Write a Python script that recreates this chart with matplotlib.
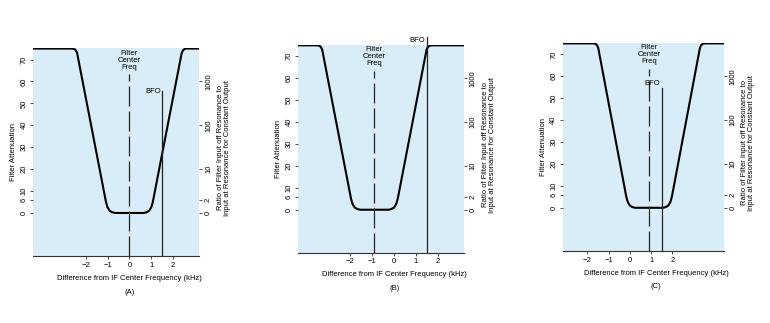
import matplotlib.pyplot as plt

# filter response shape (panel A), dB attenuation vs kHz from IF center
shape_x = [-4.6, -2.62, -2.52, -2.45, -2.39, -1.07, -1.0, -0.9, -0.78, -0.65,
           0.65, 0.78, 0.9, 1.0, 1.07, 2.39, 2.45, 2.52, 2.62, 4.6]
shape_db = [75, 75, 74.8, 74.2, 73, 5, 2.6, 1.0, 0.3, 0,
            0, 0.3, 1.0, 2.6, 5, 73, 74.2, 74.8, 75, 75]

panel_names = ['(A)', '(B)', '(C)']
filter_shift = [0.0, -0.9, 0.9]      # filter center freq in each panel (kHz)
bfo_freq = [1.5, 1.5, 1.5]
bfo_top = [55.5, 78.7, 54.5]
bfo_label_y = [55.5, 77.2, 56.5]
xlims = [(-4.4, 3.2), (-4.4, 3.22), (-3.15, 4.41)]

left_ticks = [0, 6, 10, 20, 30, 40, 50, 60, 70]
right_ticks = [0, 6, 20, 40, 60]
right_labels = ['0', '2', '10', '100', '1000']
x_ticks = [-2, -1, 0, 1, 2]

# axes rectangles in figure fractions
rects = [
    (0.043, 0.207, 0.216, 0.644),
    (0.387, 0.217, 0.216, 0.644),
    (0.731, 0.223, 0.209, 0.644),
]

bg = '#d9edf8'
fs = 5.5
plt.rcParams['font.family'] = ['Liberation Sans', 'DejaVu Sans']

fig = plt.figure(figsize=(7.7, 3.23), dpi=100)

for i, rect in enumerate(rects):
    ax = fig.add_axes(rect)
    ax.set_facecolor(bg)
    ax.set_xlim(*xlims[i])
    ax.set_ylim(-19.7, 75.2)

    xs = [x + filter_shift[i] for x in shape_x]
    ax.plot(xs, shape_db, color='black', lw=1.5, solid_joinstyle='round')

    # filter center line (dashed)
    fc = filter_shift[i]
    ax.plot([fc, fc], [-19.7, 63.5], color='#222222', lw=0.9,
            linestyle=(0, (16, 4)))
    ax.text(fc, 74.5, 'Filter\nCenter\nFreq', ha='center', va='top',
            fontsize=fs, linespacing=1.0)

    # BFO line
    b = bfo_freq[i]
    ax.plot([b, b], [-19.7, bfo_top[i]], color='#222222', lw=0.9, clip_on=False)
    ax.text(b - 0.06, bfo_label_y[i], 'BFO', ha='right', va='center', fontsize=fs)

    for s in ['left', 'right', 'top']:
        ax.spines[s].set_visible(False)
    ax.spines['bottom'].set_color('#333333')
    ax.spines['bottom'].set_linewidth(0.8)

    ax.set_xticks(x_ticks)
    ax.set_xticklabels(['\u22122', '\u22121', '0', '1', '2'])
    ax.set_yticks(left_ticks)
    ax.set_yticklabels([str(t) for t in left_ticks], rotation=90, va='center')
    ax.tick_params(axis='both', labelsize=fs, length=2.5, width=0.6, pad=1.5,
                   color='#333333')

    ax2 = ax.twinx()
    ax2.set_ylim(ax.get_ylim())
    for s in ['left', 'right', 'top', 'bottom']:
        ax2.spines[s].set_visible(False)
    ax2.set_yticks(right_ticks)
    ax2.set_yticklabels(right_labels, rotation=90, va='center')
    ax2.tick_params(axis='y', labelsize=fs, length=2.5, width=0.6, pad=1.5,
                    color='#333333')

    ax.text(-0.12, 0.5, 'Filter Attenuation', transform=ax.transAxes,
            rotation=90, ha='center', va='center', fontsize=fs)
    ax.text(1.148, 0.52,
            'Ratio of Filter Input off Resonance to\nInput at Resonance for Constant Output',
            transform=ax.transAxes, rotation=90, ha='center', va='center',
            fontsize=fs, linespacing=1.0)
    ax.text(0.58, -0.106, 'Difference from IF Center Frequency (kHz)',
            transform=ax.transAxes, ha='center', va='center', fontsize=fs)
    ax.text(0.58, -0.173, panel_names[i], transform=ax.transAxes,
            ha='center', va='center', fontsize=fs)

fig.savefig('out.png', dpi=100)
